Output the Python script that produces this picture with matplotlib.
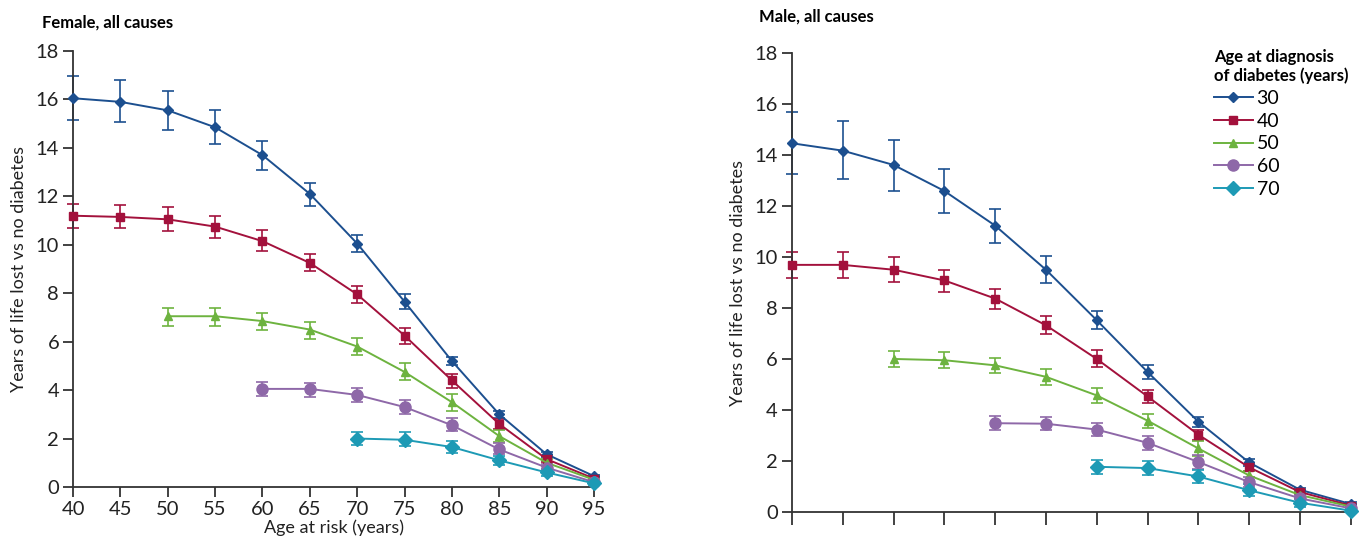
import matplotlib.pyplot as plt
import numpy as np

plt.rcParams['font.family'] = ['Lato', 'DejaVu Sans']

ages = [40, 45, 50, 55, 60, 65, 70, 75, 80, 85, 90, 95]
diag_ages = ["30", "40", "50", "60", "70"]

# female, all causes: value, lower, upper
f30 = [16.05, 15.9, 15.55, 14.85, 13.7, 12.1, 10.05, 7.65, 5.2, 3.0, 1.35, 0.45]
f30_lo = [15.15, 15.05, 14.75, 14.15, 13.1, 11.6, 9.7, 7.35, 5.05, 2.85, 1.25, 0.4]
f30_hi = [16.95, 16.8, 16.35, 15.55, 14.3, 12.55, 10.4, 7.95, 5.35, 3.15, 1.45, 0.5]
f40 = [11.2, 11.15, 11.05, 10.75, 10.15, 9.25, 7.95, 6.25, 4.4, 2.6, 1.15, 0.35]
f40_lo = [10.7, 10.7, 10.55, 10.3, 9.75, 8.9, 7.6, 5.9, 4.1, 2.4, 1.05, 0.3]
f40_hi = [11.7, 11.65, 11.55, 11.2, 10.6, 9.6, 8.3, 6.55, 4.65, 2.8, 1.3, 0.42]
f50 = [7.05, 7.05, 6.85, 6.5, 5.8, 4.75, 3.5, 2.1, 1.0, 0.3]
f50_lo = [6.65, 6.65, 6.5, 6.1, 5.45, 4.4, 3.15, 1.85, 0.85, 0.22]
f50_hi = [7.4, 7.4, 7.2, 6.8, 6.15, 5.1, 3.85, 2.35, 1.15, 0.38]
f60 = [4.05, 4.05, 3.8, 3.3, 2.55, 1.55, 0.8, 0.2]
f60_lo = [3.75, 3.7, 3.5, 3.0, 2.3, 1.35, 0.65, 0.12]
f60_hi = [4.35, 4.3, 4.1, 3.6, 2.85, 1.8, 0.95, 0.28]
f70 = [2.0, 1.95, 1.65, 1.1, 0.6, 0.15]
f70_lo = [1.75, 1.7, 1.4, 0.9, 0.45, 0.08]
f70_hi = [2.25, 2.25, 1.9, 1.3, 0.75, 0.22]

# male, all causes
m30 = [14.47, 14.18, 13.62, 12.6, 11.24, 9.51, 7.53, 5.5, 3.55, 1.95, 0.88, 0.32]
m30_lo = [13.28, 13.08, 12.58, 11.74, 10.55, 9.0, 7.17, 5.24, 3.36, 1.82, 0.8, 0.26]
m30_hi = [15.7, 15.33, 14.6, 13.47, 11.91, 10.03, 7.91, 5.76, 3.74, 2.08, 0.96, 0.38]
m40 = [9.7, 9.7, 9.51, 9.09, 8.38, 7.33, 6.01, 4.54, 3.04, 1.76, 0.79, 0.26]
m40_lo = [9.19, 9.17, 9.04, 8.63, 7.95, 6.97, 5.7, 4.28, 2.85, 1.63, 0.7, 0.2]
m40_hi = [10.2, 10.2, 10.0, 9.51, 8.77, 7.68, 6.35, 4.79, 3.23, 1.88, 0.88, 0.32]
m50 = [6.01, 5.96, 5.76, 5.31, 4.58, 3.59, 2.5, 1.44, 0.67, 0.22]
m50_lo = [5.69, 5.67, 5.45, 5.0, 4.29, 3.32, 2.22, 1.25, 0.55, 0.15]
m50_hi = [6.31, 6.27, 6.05, 5.6, 4.86, 3.86, 2.78, 1.63, 0.79, 0.29]
m60 = [3.49, 3.47, 3.24, 2.72, 1.97, 1.18, 0.54, 0.15]
m60_lo = [3.23, 3.21, 2.97, 2.45, 1.71, 0.98, 0.4, 0.08]
m60_hi = [3.78, 3.74, 3.5, 2.99, 2.24, 1.38, 0.68, 0.22]
m70 = [1.78, 1.73, 1.4, 0.86, 0.37, 0.06]
m70_lo = [1.51, 1.46, 1.14, 0.63, 0.22, 0.0]
m70_hi = [2.05, 1.99, 1.65, 1.09, 0.52, 0.14]

colors = ["#1c4f8f", "#a3113c", "#6db33f", "#8e68a8", "#1d9ab5"]
markers = ["D", "s", "^", "o", "D"]
msizes = [5, 6, 6, 8, 7]


def draw_panel(ax, series, show_xlabels):
    for i, (y, lo, hi) in enumerate(series):
        x = ages[len(ages) - len(y):]
        y = np.array(y)
        err = [y - np.array(lo), np.array(hi) - y]
        ax.errorbar(x, y, yerr=err, fmt="none", ecolor=colors[i], alpha=0.85,
                    elinewidth=1.4, capsize=4, capthick=1.4, clip_on=False, zorder=2)
        ax.plot(x, y, color=colors[i], marker=markers[i], ms=msizes[i], lw=1.4,
                clip_on=False, zorder=3, label=diag_ages[i])

    ax.set_xlim(40, 95)
    ax.set_ylim(0, 18)
    ax.set_xticks(ages)
    ax.set_yticks(range(0, 19, 2))
    ax.spines[["top", "right"]].set_visible(False)
    for s in ["left", "bottom"]:
        ax.spines[s].set_color("#333333")
        ax.spines[s].set_linewidth(1.3)
    ax.tick_params(direction="out", length=7, width=1.3, color="#333333",
                   labelsize=14.5, labelcolor="#222222", pad=3)
    if not show_xlabels:
        ax.tick_params(axis="x", labelbottom=False, length=9)
    ax.set_ylabel("Years of life lost vs no diabetes", fontsize=13, color="#222222",
                  labelpad=6)


fig = plt.figure(figsize=(13.63, 5.38), dpi=100)

ax1 = fig.add_axes([0.0536, 0.0948, 0.3822, 0.8104])
draw_panel(ax1, [(f30, f30_lo, f30_hi), (f40, f40_lo, f40_hi), (f50, f50_lo, f50_hi),
                 (f60, f60_lo, f60_hi), (f70, f70_lo, f70_hi)], True)
ax1.set_xlabel("Age at risk (years)", fontsize=13, color="#222222", labelpad=1)
fig.text(0.031, 0.959, "Female, all causes", fontsize=12, fontweight="bold",
         ha="left", va="center")

ax2 = fig.add_axes([0.581, 0.048, 0.410, 0.853])
draw_panel(ax2, [(m30, m30_lo, m30_hi), (m40, m40_lo, m40_hi), (m50, m50_lo, m50_hi),
                 (m60, m60_lo, m60_hi), (m70, m70_lo, m70_hi)], False)
fig.text(0.557, 0.97, "Male, all causes", fontsize=12, fontweight="bold",
         ha="left", va="center")

leg = ax2.legend(loc="upper left", bbox_to_anchor=(0.755, 1.01), frameon=False,
                 title="Age at diagnosis\nof diabetes (years)", fontsize=14,
                 title_fontproperties={"weight": "bold", "size": 12},
                 handlelength=2.0, handletextpad=0.2, labelspacing=0.3,
                 borderaxespad=0, borderpad=0, alignment="left")

fig.savefig("out.png", dpi=100)
